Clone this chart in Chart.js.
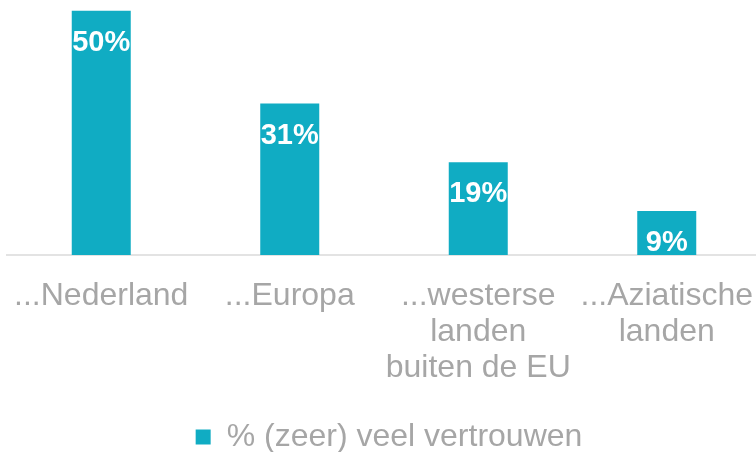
<!DOCTYPE html>
<html>
<head>
<meta charset="utf-8">
<script src="https://cdn.jsdelivr.net/npm/chart.js@4/dist/chart.umd.min.js"></script>
<style>
    html, body { margin: 0; padding: 0; background: #fff; overflow: hidden; }
    #wrap { position: relative; width: 771px; height: 463px; }
</style>
</head>
<body>
<div id="wrap"><canvas id="trustChart"></canvas></div>
<script>
// Data
const categories = [
    ['...Nederland'],
    ['...Europa'],
    ['...westerse', 'landen', 'buiten de EU'],
    ['...Aziatische', 'landen']
];
const seriesLabel = '% (zeer) veel vertrouwen';
const trustValues = [50, 31, 19, 9];

const barColor = '#10acc3';
const textGray = '#a6a6a6';
const fontFamily = "'Liberation Sans', Arial, sans-serif";

// White percentage labels drawn inside the top of each bar
const valueLabels = {
    id: 'valueLabels',
    afterDatasetsDraw(chart) {
        const ctx = chart.ctx;
        const meta = chart.getDatasetMeta(0);
        ctx.save();
        ctx.fillStyle = '#ffffff';
        ctx.font = 'bold 29px ' + fontFamily;
        ctx.textAlign = 'center';
        ctx.textBaseline = 'alphabetic';
        meta.data.forEach((bar, i) => {
            ctx.fillText(trustValues[i] + '%', bar.x, bar.y + 40);
        });
        ctx.restore();
    }
};

const ctx = document.getElementById('trustChart').getContext('2d');
new Chart(ctx, {
    type: 'bar',
    data: {
        labels: categories,
        datasets: [{
            label: seriesLabel,
            data: trustValues,
            backgroundColor: barColor,
            borderWidth: 0,
            barPercentage: 1,
            categoryPercentage: 0.313
        }]
    },
    options: {
        responsive: true,
        maintainAspectRatio: false,
        animation: false,
        layout: { padding: { left: 7, right: 0, top: 0, bottom: 0 } },
        plugins: {
            tooltip: { enabled: false },
            legend: {
                position: 'bottom',
                labels: {
                    color: textGray,
                    boxWidth: 15,
                    boxHeight: 15,
                    padding: 10,
                    font: { family: fontFamily, size: 32 }
                }
            }
        },
        scales: {
            x: {
                grid: { display: false, drawTicks: true, tickLength: 23 },
                border: { display: true, color: '#e3e3e3', width: 2 },
                ticks: {
                    color: textGray,
                    autoSkip: false,
                    maxRotation: 0,
                    padding: 0,
                    font: { family: fontFamily, size: 32, lineHeight: 1.125 }
                },
                afterFit(scale) { scale.height = 156; }
            },
            y: {
                position: 'right',
                min: 0,
                max: 52.2,
                grid: { display: false },
                border: { display: false },
                ticks: { display: false },
                afterFit(scale) { scale.width = 10; }
            }
        }
    },
    plugins: [valueLabels]
});
</script>
</body>
</html>
